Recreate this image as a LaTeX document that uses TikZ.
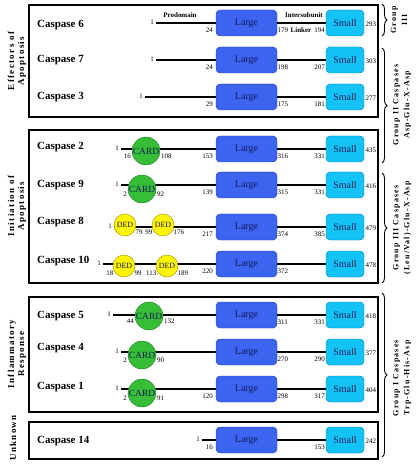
\documentclass[tikz,border=0pt]{standalone}
\usepackage{fontspec}
\setmainfont{Liberation Serif}
\newfontfamily\spacedfont[LetterSpace=15]{Liberation Serif}
\usetikzlibrary{decorations.pathreplacing}
\usepackage{xcolor}
\definecolor{largecolor}{RGB}{60,100,240}
\definecolor{largeedge}{RGB}{35,60,190}
\definecolor{smallcolor}{RGB}{20,195,245}
\definecolor{smalledge}{RGB}{0,120,185}
\definecolor{cardcolor}{RGB}{55,190,55}
\definecolor{cardedge}{RGB}{30,120,30}
\definecolor{dedcolor}{RGB}{255,245,0}
\definecolor{dededge}{RGB}{150,140,0}
\definecolor{domink}{RGB}{20,25,90}
\tikzset{
  grpframe/.style  = {line width=2.5bp},
  link/.style      = {line width=1.6bp},
  largebox/.style  = {draw=largeedge, fill=largecolor, rounded corners=4bp,
                      minimum width=61bp, minimum height=26bp, inner sep=0pt,
                      text=domink, font=\fontsize{10}{10}\selectfont},
  smallbox/.style  = {largebox, draw=smalledge, fill=smallcolor, minimum width=38bp},
  card/.style      = {circle, draw=cardedge, fill=cardcolor, minimum size=28bp,
                      inner sep=0pt, text=domink, font=\fontsize{9.5}{10}\selectfont},
  ded/.style       = {circle, draw=dededge, fill=dedcolor, minimum size=22bp,
                      inner sep=0pt, text=domink, font=\fontsize{8}{8}\selectfont},
  num/.style       = {inner sep=0pt, font=\fontsize{7}{7}\selectfont},
  caslabel/.style  = {anchor=west, inner sep=0pt, font=\bfseries\fontsize{11}{11}\selectfont},
  note/.style      = {inner sep=0pt, font=\bfseries\fontsize{7}{7}\selectfont},
  sidelabel/.style = {rotate=90, align=center, inner sep=0pt,
                      font=\spacedfont\bfseries\fontsize{9}{10}\selectfont},
  grplabel/.style  = {sidelabel, font=\spacedfont\bfseries\fontsize{8}{11}\selectfont},
  brace/.style     = {decorate, decoration={brace, amplitude=5bp}, line width=0.9bp},
}

\begin{document}
\begin{tikzpicture}[x=1bp, y=-1bp]
  \useasboundingbox (0,0) rectangle (415,466);
  % function frames
  \foreach \t/\b in {5/117, 130/283, 297/412, 422/459} {
    \draw[grpframe] (29,\t) rectangle (378,\b);
  }
  \node[sidelabel] (effect) at (17,61) {Effectors of\\Apoptosis};
  \node[sidelabel] (init) at (17,206) {Initiation of\\Apoptosis};
  \node[sidelabel] (inflam) at (17,354) {Inflammatory\\Response};
  \node[sidelabel] (unknown) at (13,438) {Unknown};

  % caspase rows: no./line y/label y/start/before large/after large/before small/end
  \foreach \n/\y/\ly/\s/\a/\b/\c/\d in {6/23/25/156/24/179/194/293, 7/60/60/156/24/198/207/303,
      3/97/97/145/29/175/181/277, 2/149/147/121/153/316/331/435, 9/185/185/121/139/315/331/416,
      8/227/222/114/217/374/385/479, 10/264/261/103/220/372//478, 5/315/316/113//311/331/418,
      4/352/348/121//270/290/377, 1/389/387/121/120/298/317/404, 14/440/441/202/16//153/242} {
    \node[caslabel] (name\n) at (37,\ly) {Caspase \n};
    \coordinate (s\n) at (\s,\y);
    \node[largebox] (L\n) at (246.5,\y) {Large};
    \node[smallbox] (S\n) at (345,\y) {Small};
    \draw[link] (s\n) -- (L\n) (L\n) -- (S\n);
    \node[num, anchor=east] (one\n) at (\s-2,\y-1) {1};
    \node[num, anchor=east] (a\n) at (213,\y+7) {\a};
    \node[num, anchor=west] (b\n) at (277.5,\y+7) {\b};
    \node[num, anchor=east] (c\n) at (325,\y+7) {\c};
    \node[num, anchor=west] (d\n) at (365.5,\y+1) {\d};
  }

  % CARD domains
  \foreach \n/\x/\y/\l/\r in {2/146/151/16/108, 9/142/189/2/92, 5/149/316/44/132,
      4/142/355/2/90, 1/142/393/2/91} {
    \node[card] (C\n) at (\x,\y) {CARD};
    \node[num, anchor=east] (cl\n) at (\x-15,\y+5) {\l};
    \node[num, anchor=west] (cr\n) at (\x+15,\y+5) {\r};
  }

  % DED domains
  \foreach \n/\k/\x/\y/\l/\r in {8/1/125/225//79, 8/2/163/225/99/176,
      10/1/124/266/18/99, 10/2/167/266/113/189} {
    \node[ded] (D\n\k) at (\x,\y) {DED};
    \node[num, anchor=east] (dl\n\k) at (\x-10.5,\y+7) {\l};
    \node[num, anchor=west] (dr\n\k) at (\x+10.5,\y+7) {\r};
  }

  % region names
  \node[note] (prodomain) at (180,15) {Prodomain};
  \node[note] (intersub) at (304,15) {Intersubunit};
  \node[note] (linker) at (301,30) {Linker};

  % substrate groups
  \draw[brace] (382,4) -- (382,36);
  \draw[brace] (382,48) -- (382,163);
  \draw[brace] (382,173) -- (382,283);
  \draw[brace] (382,293) -- (382,457);
  \node[grplabel] (g3a) at (399,20) {Group\\III};
  \node[grplabel] (g2) at (402,105) {Group II Caspases\\Asp-Glu-X-Asp};
  \node[grplabel] (g3) at (402,228) {Group III Caspases\\(Leu/Val)-Glu-X-Asp};
  \node[grplabel] (g1) at (402,378) {Group I Caspases\\Trp-Glu-His-Asp};
\end{tikzpicture}
\end{document}
